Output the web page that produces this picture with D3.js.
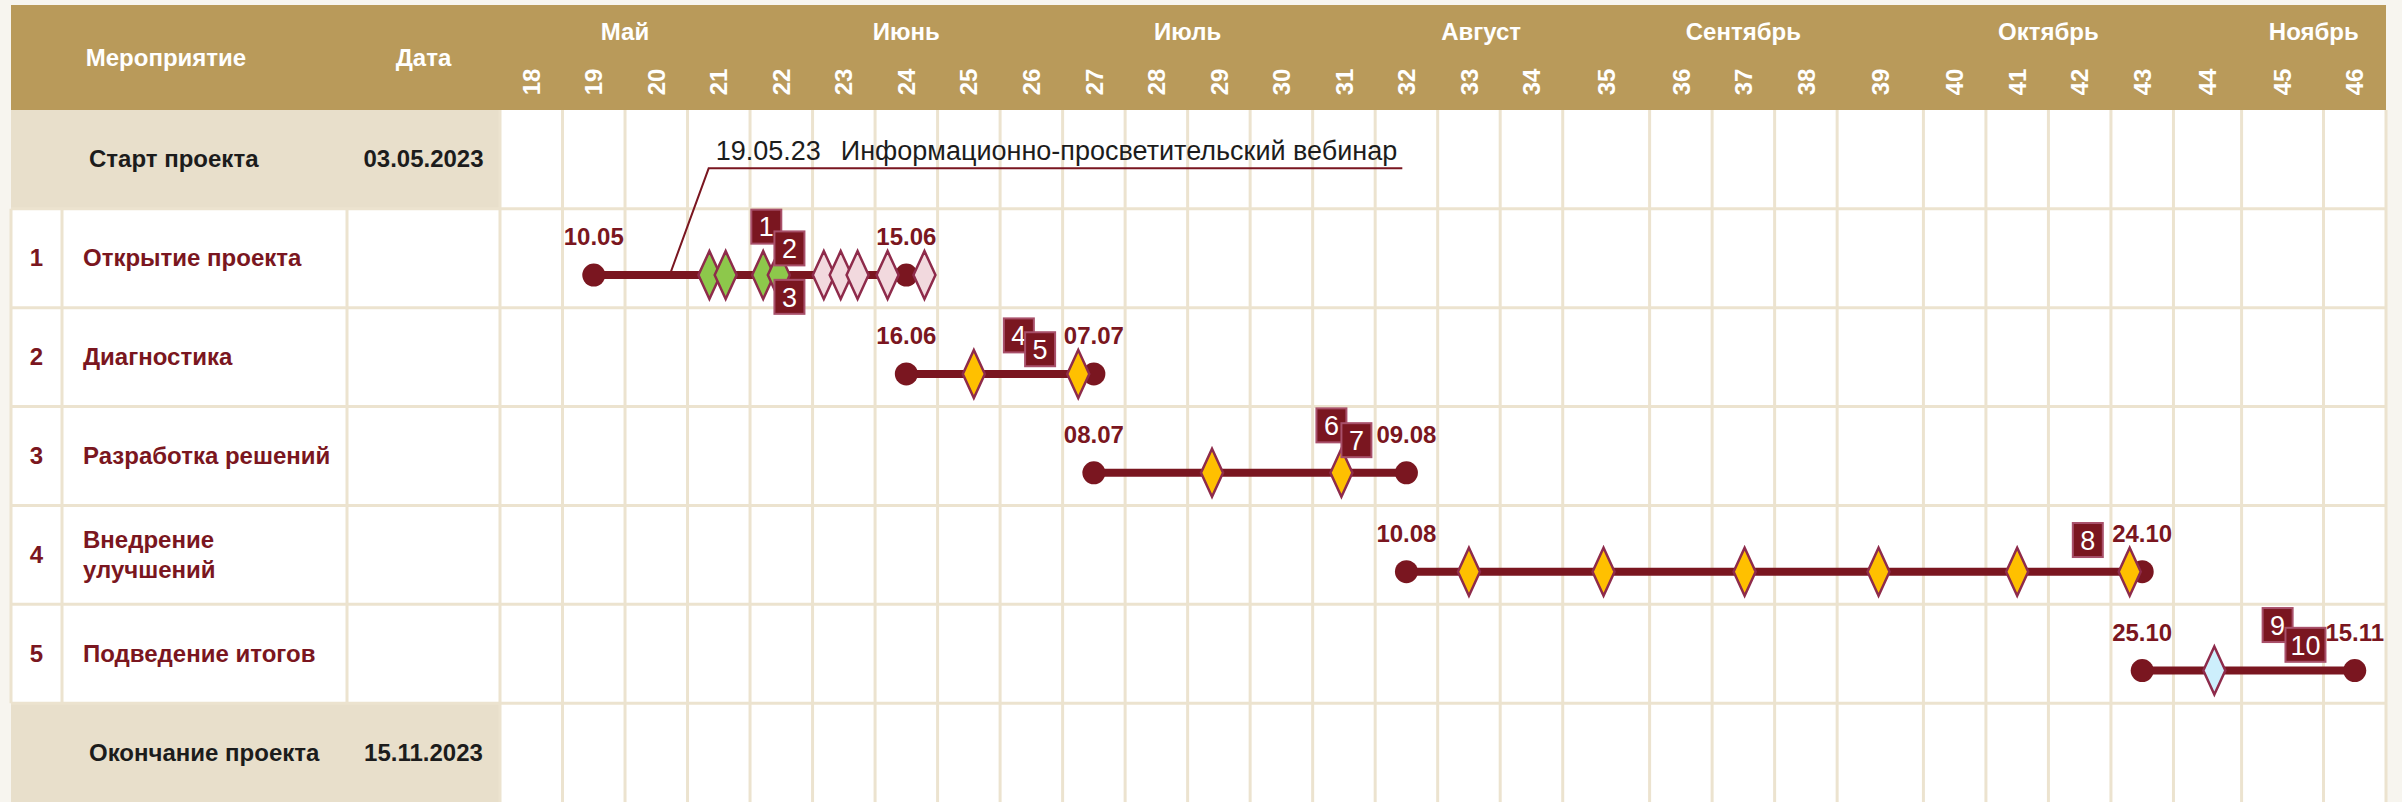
<!DOCTYPE html>
<html>
<head>
<meta charset="utf-8">
<style>
    body { margin: 0; background: #f7f5ef; }
    svg { display: block; font-family: "Liberation Sans", Arial, sans-serif; }
</style>
</head>
<body>

<svg id="chart"></svg>

<script src="https://cdn.jsdelivr.net/npm/d3@7"></script>
<script>

    // ---- data ----
    let weeks = [18, 19, 20, 21, 22, 23, 24, 25, 26, 27, 28, 29, 30, 31, 32,
                 33, 34, 35, 36, 37, 38, 39, 40, 41, 42, 43, 44, 45, 46];

    let months     = ["Май", "Июнь", "Июль", "Август", "Сентябрь", "Октябрь", "Ноябрь"];
    let monthFrom  = [18, 22, 27, 31, 36, 40, 45];
    let monthTo    = [21, 26, 30, 35, 38, 43, 46];

    let taskNums   = [1, 2, 3, 4, 5];
    let taskNames  = [["Открытие проекта"], ["Диагностика"], ["Разработка решений"],
                      ["Внедрение", "улучшений"], ["Подведение итогов"]];
    let taskStart  = ["10.05.2023", "16.06.2023", "08.07.2023", "10.08.2023", "25.10.2023"];
    let taskEnd    = ["15.06.2023", "07.07.2023", "09.08.2023", "24.10.2023", "15.11.2023"];

    let projectStart = ["Старт проекта", "03.05.2023"];
    let projectEnd   = ["Окончание проекта", "15.11.2023"];

    // milestones (row, position in weeks, kind)
    let msRow  = [1, 1, 1, 1, 1, 1, 1, 1, 1, 2, 2, 3, 3, 4, 4, 4, 4, 4, 4, 5];
    let msWeek = [21.35, 21.61, 22.21, 22.46, 23.18, 23.45, 23.72, 24.20, 24.79,
                  25.58, 27.25, 29.39, 31.46,
                  33.50, 35.47, 37.52, 39.48, 41.50, 43.30, 44.60];
    let msKind = ["g", "g", "g", "g", "p", "p", "p", "p", "p",
                  "y", "y", "y", "y", "y", "y", "y", "y", "y", "y", "b"];

    // numbered notes (row, week position, lane inside row)
    let noteNum  = [1, 2, 3, 4, 5, 6, 7, 8, 9, 10];
    let noteRow  = [1, 1, 1, 2, 2, 3, 3, 4, 5, 5];
    let noteWeek = [22.26, 22.63, 22.63, 26.30, 26.64, 31.30, 31.70, 42.63, 45.44, 45.78];
    let noteLane = [0.18, 0.40, 0.89, 0.28, 0.42, 0.19, 0.34, 0.35, 0.21, 0.41];

    let webinarDate = "19.05.2023";
    let webinarText = "Информационно-просветительский вебинар";

    // ---- layout ----
    let width = 2402, height = 802;
    let tableL = 11, tableR = 2386, headTop = 5, headBottom = 110;
    let colNum = 62, colName = 347, tl0 = 500;
    let wideCols = {35: 1.39, 39: 1.38, 44: 1.09, 45: 1.31};

    let gold = "#b99a5a", tan = "#e8dfcb", grid = "#ece3cf";
    let red = "#7a1620", msStroke = "#8e2b4b";
    let msFill = {g: "#8dc84b", p: "#f2d9de", y: "#ffc000", b: "#cdeffc"};

    let svg = d3.select("#chart").attr("width", width).attr("height", height);

    let parse = d3.timeParse("%d.%m.%Y");
    let isoWeek = d => +d3.timeFormat("%V")(d);
    let dm = d3.timeFormat("%d.%m");

    // piecewise week scale (some columns are wider)
    let units = weeks.map(w => wideCols[w] || 1);
    let unit = (tableR - tl0) / d3.sum(units);
    let edges = [0, ...d3.cumsum(units)].map(c => tl0 + c * unit);
    let x = d3.scaleLinear().domain([...weeks, weeks[weeks.length - 1] + 1]).range(edges);

    let rowKeys = ["start", ...taskNums, "end"];
    let y = d3.scaleBand().domain(rowKeys).range([headBottom, height]);
    let rh = y.bandwidth();
    let barY = r => y(r) + rh * 0.67;

    // ---- background & grid ----
    svg.append("rect").attr("x", tableL).attr("y", headBottom)
        .attr("width", tableR - tableL).attr("height", height - headBottom).attr("fill", "white");

    svg.selectAll(".tanrow").data(["start", "end"]).enter().append("rect")
        .attr("x", tableL).attr("y", d => y(d))
        .attr("width", tl0 - tableL).attr("height", rh).attr("fill", tan);

    let gl = svg.append("g").attr("stroke", grid).attr("stroke-width", 3);

    gl.selectAll(".v").data(edges).enter().append("line")
        .attr("x1", d => d).attr("x2", d => d)
        .attr("y1", headBottom).attr("y2", height);

    gl.selectAll(".vl").data([tableL, colNum, colName]).enter().append("line")
        .attr("x1", d => d).attr("x2", d => d)
        .attr("y1", y(1)).attr("y2", y("end"));

    gl.selectAll(".h").data(rowKeys.slice(1)).enter().append("line")
        .attr("x1", tableL).attr("x2", tableR)
        .attr("y1", d => y(d)).attr("y2", d => y(d));

    // ---- header ----
    svg.append("rect").attr("x", tableL).attr("y", headTop)
        .attr("width", tableR - tableL).attr("height", headBottom - headTop).attr("fill", gold);

    let head = svg.append("g").attr("fill", "white").attr("font-weight", "bold").attr("font-size", 24);

    head.append("text").attr("x", 166).attr("y", 66).attr("text-anchor", "middle").text("Мероприятие");
    head.append("text").attr("x", (colName + tl0) / 2).attr("y", 66).attr("text-anchor", "middle").text("Дата");

    head.selectAll(".month").data(months).enter().append("text")
        .attr("x", (d, i) => (x(monthFrom[i]) + x(monthTo[i] + 1)) / 2)
        .attr("y", 40).attr("text-anchor", "middle")
        .text(d => d);

    head.selectAll(".week").data(weeks).enter().append("text")
        .attr("transform", d => `translate(${x(d + 0.5)}, 82) rotate(-90)`)
        .attr("text-anchor", "middle").attr("dy", "0.36em")
        .text(d => d);

    // ---- left table ----
    let startEnd = [["start", projectStart], ["end", projectEnd]];
    let se = svg.selectAll(".se").data(startEnd).enter().append("g")
        .attr("font-weight", "bold").attr("font-size", 24).attr("fill", "#1c1c1c");
    se.append("text").attr("x", 89).attr("y", d => y(d[0]) + rh / 2 + 8).text(d => d[1][0]);
    se.append("text").attr("x", (colName + tl0) / 2).attr("y", d => y(d[0]) + rh / 2 + 8)
        .attr("text-anchor", "middle").text(d => d[1][1]);

    let rows = svg.selectAll(".task").data(taskNums).enter().append("g")
        .attr("font-weight", "bold").attr("font-size", 24).attr("fill", red);
    rows.append("text").attr("x", (tableL + colNum) / 2).attr("y", d => y(d) + rh / 2 + 8)
        .attr("text-anchor", "middle").text(d => d);
    rows.each(function(d, i) {
        let lines = taskNames[i];
        d3.select(this).selectAll(".nm").data(lines).enter().append("text")
            .attr("x", 83)
            .attr("y", (l, j) => y(d) + rh / 2 + 8 + (j - (lines.length - 1) / 2) * 30)
            .text(l => l);
    });

    // ---- callout ----
    let wd = parse(webinarDate);
    let ax = x(isoWeek(wd) + ((wd.getDay() + 6) % 7 + 1) / 7);
    let ay = barY(1);
    let cx = ax + 39, cy = y("start") + rh * 0.59;

    let call = svg.append("text").attr("x", cx + 7).attr("y", cy - 8)
        .attr("font-size", 27).attr("fill", "#1c1c1c");
    call.append("tspan").text(d3.timeFormat("%d.%m.%y")(wd));
    call.append("tspan").attr("dx", 20).text(webinarText);
    let tEnd = cx + 7 + call.node().getComputedTextLength() + 20;

    svg.append("path")
        .attr("d", `M${ax},${ay} L${cx},${cy} L${tEnd + 5},${cy}`)
        .attr("fill", "none").attr("stroke", red).attr("stroke-width", 2);

    // ---- bars ----
    let tasks = taskNums.map((n, i) => ({n, s: parse(taskStart[i]), e: parse(taskEnd[i])}));

    svg.selectAll(".bar").data(tasks).enter().append("line")
        .attr("x1", d => x(isoWeek(d.s) + 0.5)).attr("x2", d => x(isoWeek(d.e) + 0.5))
        .attr("y1", d => barY(d.n)).attr("y2", d => barY(d.n))
        .attr("stroke", red).attr("stroke-width", 8);

    let ends = tasks.flatMap(d => [{n: d.n, t: d.s}, {n: d.n, t: d.e}]);

    svg.selectAll(".dot").data(ends).enter().append("circle")
        .attr("cx", d => x(isoWeek(d.t) + 0.5)).attr("cy", d => barY(d.n))
        .attr("r", 11.5).attr("fill", red);

    svg.selectAll(".dlab").data(ends).enter().append("text")
        .attr("x", d => x(isoWeek(d.t) + 0.5)).attr("y", d => barY(d.n) - 30)
        .attr("text-anchor", "middle").attr("font-weight", "bold").attr("font-size", 24)
        .attr("fill", red).text(d => dm(d.t));

    // ---- milestones ----
    svg.selectAll(".ms").data(msWeek).enter().append("path")
        .attr("d", "M0,-24 L11,0 L0,24 L-11,0 Z")
        .attr("transform", (d, i) => `translate(${x(d)}, ${barY(msRow[i])})`)
        .attr("fill", (d, i) => msFill[msKind[i]])
        .attr("stroke", msStroke).attr("stroke-width", 2.5);

    // ---- numbered notes ----
    let notes = svg.selectAll(".note").data(noteNum).enter().append("g")
        .attr("transform", (d, i) => `translate(${x(noteWeek[i])}, ${y(noteRow[i]) + rh * noteLane[i]})`);
    notes.append("rect")
        .attr("x", d => d < 10 ? -15 : -20).attr("y", -17)
        .attr("width", d => d < 10 ? 30 : 40).attr("height", 34)
        .attr("fill", red).attr("stroke", "#a8506a").attr("stroke-width", 2);
    notes.append("text")
        .attr("text-anchor", "middle").attr("dy", "0.36em")
        .attr("font-size", 27).attr("fill", "white")
        .text(d => d);

</script>
</body>
</html>
